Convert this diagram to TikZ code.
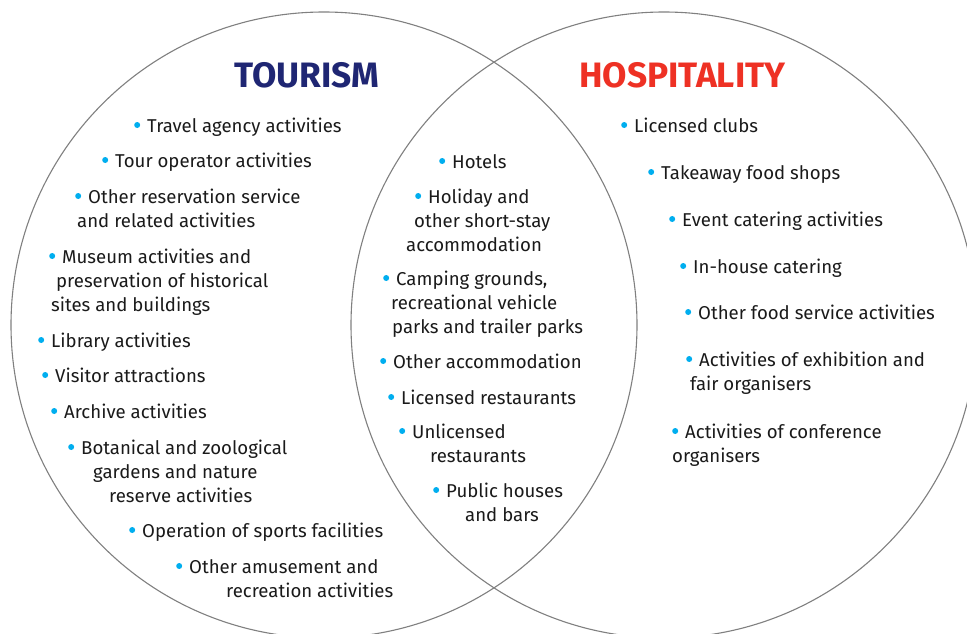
\documentclass[tikz,border=0pt]{standalone}
\usepackage{fontspec}
\setmainfont{Fira Sans}
\definecolor{navy}{HTML}{1F2673}
\definecolor{hred}{HTML}{EE3124}
\definecolor{dot}{HTML}{00AEEF}
\definecolor{ring}{HTML}{808080}
\definecolor{ink}{HTML}{1A1A1A}
% round bullet hung to the left of the first line
\newcommand{\bul}{\llap{\tikz[baseline=-7pt]\fill[dot] (0,0) circle (3pt);\hspace{7pt}}}
\begin{document}
\begin{tikzpicture}[x=1pt,y=-1pt,
  entry/.style={anchor=base west,align=left,inner sep=0pt,text=ink,
    font=\fontsize{18.6}{24}\selectfont},
  heading/.style={anchor=base west,inner sep=0pt,
    font=\fontsize{35.3}{40}\selectfont\bfseries}]
\useasboundingbox (0,0) rectangle (967,634);
\clip (0,0) rectangle (967,634);
\fill[white] (0,0) rectangle (967,634);

% the two sets
\draw[ring,line width=1.1pt] (324,325) circle (313);
\draw[ring,line width=1.1pt] (664,325) circle (313);

% headings
\node[heading,text=navy] (tourism) at (234,88) {TOURISM};
\node[heading,text=hred] (hosp) at (579,88) {HOSPITALITY};

% tourism only (multi-line entries are placed by their last baseline)
\node[entry] (l1) at (147,132) {\bul Travel agency activities};
\node[entry] (l2) at (115,167) {\bul Tour operator activities};
\node[entry] (l3) at (77,227) {\hspace*{11pt}\bul Other reservation service\\and related activities};
\node[entry] (l4) at (51,311) {\hspace*{11pt}\bul Museum activities and\\\hspace*{5pt}preservation of historical\\sites and buildings};
\node[entry] (l5) at (51,347) {\bul Library activities};
\node[entry] (l6) at (55,382) {\bul Visitor attractions};
\node[entry] (l7) at (64,418) {\bul Archive activities};
\node[entry] (l8) at (81,502) {\bul Botanical and zoological\\\hspace*{12pt}gardens and nature\\\hspace*{28pt}reserve activities};
\node[entry] (l9) at (142,537) {\bul Operation of sports facilities};
\node[entry] (l10) at (189,597) {\bul Other amusement and\\\hspace*{37pt}recreation activities};

% shared
\node[entry] (m1) at (452,168) {\bul Hotels};
\node[entry] (m2) at (406,251) {\hspace*{22pt}\bul Holiday and\\\hspace*{8pt}other short-stay\\accommodation};
\node[entry] (m3) at (391,333) {\hspace*{5pt}\bul Camping grounds,\\recreational vehicle\\\hspace*{1pt}parks and trailer parks};
\node[entry] (m4) at (393,368) {\bul Other accommodation};
\node[entry] (m5) at (401,404) {\bul Licensed restaurants};
\node[entry] (m6) at (412,462) {\bul Unlicensed\\\hspace*{18pt}restaurants};
\node[entry] (m7) at (446,521) {\bul Public houses\\\hspace*{19pt}and bars};

% hospitality only
\node[entry] (r1) at (634,132) {\bul Licensed clubs};
\node[entry] (r2) at (661,179) {\bul Takeaway food shops};
\node[entry] (r3) at (682,226) {\bul Event catering activities};
\node[entry] (r4) at (693,273) {\bul In-house catering};
\node[entry] (r5) at (698,319) {\bul Other food service activities};
\node[entry] (r6) at (690,390) {\hspace*{9pt}\bul Activities of exhibition and\\fair organisers};
\node[entry] (r7) at (672,462) {\hspace*{13pt}\bul Activities of conference\\organisers};
\end{tikzpicture}
\end{document}
